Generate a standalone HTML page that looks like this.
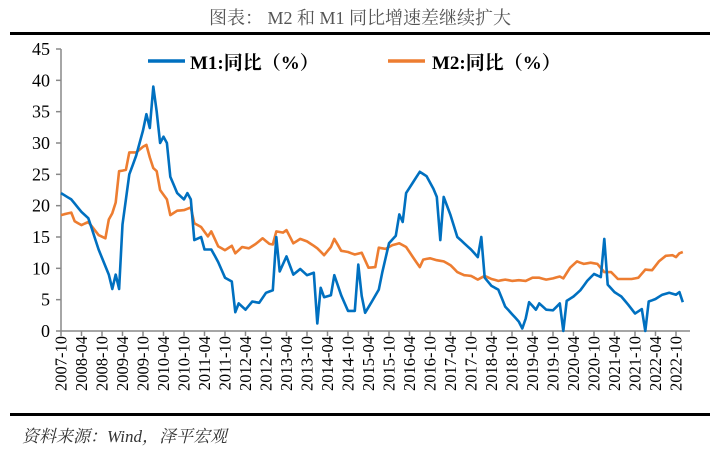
<!DOCTYPE html>
<html><head><meta charset="utf-8">
<style>
body{margin:0;background:#fff;width:719px;height:447px;overflow:hidden}
svg text{font-family:"Liberation Serif","Noto Serif CJK SC",serif}
</style></head><body>
<svg id="s" width="719" height="447" xmlns="http://www.w3.org/2000/svg">
<text x="360" y="24" text-anchor="middle" font-size="18" fill="#555">图表：  M2 和 M1 同比增速差继续扩大</text>
<rect x="10" y="32" width="700" height="3" fill="#000"/>
<rect x="10" y="413" width="700" height="3" fill="#000"/>
<text x="22" y="442" font-size="17" font-style="italic" fill="#333">资料来源：Wind，泽平宏观</text>
<line x1="148" y1="61" x2="185" y2="61" stroke="#0070C0" stroke-width="3.5"/>
<text x="190" y="69" font-size="19" font-weight="bold">M1:同比（%）</text>
<line x1="388" y1="61" x2="425" y2="61" stroke="#ED7D31" stroke-width="3.5"/>
<text x="432" y="69" font-size="19" font-weight="bold">M2:同比（%）</text>
<g id="ax"></g>
</svg>
<script>
const X0=61,DX=20.5/6,Y0=331,K=282/45;
const s=document.getElementById('ax');let h='';
h+=`<line x1="${X0}" y1="49" x2="${X0}" y2="${Y0}" stroke="#888" stroke-width="1.5"/>`;
h+=`<line x1="${X0}" y1="${Y0}" x2="690" y2="${Y0}" stroke="#888" stroke-width="1.5"/>`;
for(let v=0;v<=45;v+=5){const y=Y0-v*K;h+=`<line x1="${X0-5}" y1="${y}" x2="${X0}" y2="${y}" stroke="#888" stroke-width="1.5"/><text x="${X0-11}" y="${y+6}" text-anchor="end" font-size="18">${v}</text>`;}
for(let i=0;i<=30;i++){const x=X0+i*20.5;const m=9+i*6;const yr=2007+Math.floor(m/12);const mo=m%12+1;
h+=`<line x1="${x}" y1="${Y0}" x2="${x}" y2="${Y0+5}" stroke="#888" stroke-width="1.5"/>`;
h+=`<text transform="translate(${x+5.5},${Y0+5}) rotate(-90)" text-anchor="end" font-size="16.5">${yr}-${mo<10?'0'+mo:mo}</text>`;}
function idx(s){const [y,m]=s.split('-').map(Number);return (y-2007)*12+m-10;}
function path(str,col){const pts=str.trim().split(/\s*;\s*/).filter(Boolean).map(p=>{const[a,b]=p.trim().split(/\s+/);return[idx(a),parseFloat(b)]});
let d='';for(let i=0;i<pts.length-1;i++){const[a,va]=pts[i],[b,vb]=pts[i+1];for(let k=a;k<b;k++){const v=va+(vb-va)*(k-a)/(b-a);d+=(d?'L':'M')+(X0+k*DX).toFixed(1)+','+(Y0-Math.max(v,0)*K).toFixed(1);}}
const l=pts[pts.length-1];d+='L'+(X0+l[0]*DX).toFixed(1)+','+(Y0-l[1]*K).toFixed(1);
return `<path d="${d}" fill="none" stroke="${col}" stroke-width="2.6" stroke-linejoin="round"/>`;}
const M2=`2007-10 18.5;2008-01 18.9;2008-02 17.5;2008-04 16.9;2008-06 17.4;2008-09 15.3;2008-11 14.8;2008-12 17.8;2009-01 18.8;2009-02 20.5;2009-03 25.5;2009-05 25.7;2009-06 28.5;2009-08 28.5;2009-10 29.4;2009-11 29.7;2009-12 27.7;2010-01 26;2010-02 25.5;2010-03 22.5;2010-05 21;2010-06 18.5;2010-08 19.2;2010-10 19.3;2010-12 19.7;2011-01 17.2;2011-03 16.6;2011-05 15.1;2011-06 15.9;2011-08 13.5;2011-10 12.9;2011-12 13.6;2012-01 12.4;2012-03 13.4;2012-05 13.2;2012-07 13.9;2012-09 14.8;2012-11 13.9;2012-12 13.8;2013-01 15.9;2013-03 15.7;2013-04 16.1;2013-06 14;2013-08 14.7;2013-10 14.3;2013-12 13.6;2014-01 13.2;2014-03 12.1;2014-05 13.4;2014-06 14.7;2014-08 12.8;2014-10 12.6;2014-12 12.2;2015-02 12.5;2015-04 10.1;2015-06 10.2;2015-07 13.3;2015-09 13.1;2015-11 13.7;2016-01 14;2016-03 13.4;2016-05 11.8;2016-07 10.2;2016-08 11.4;2016-10 11.6;2016-12 11.3;2017-02 11.1;2017-04 10.5;2017-06 9.4;2017-08 8.9;2017-10 8.8;2017-12 8.2;2018-02 8.8;2018-04 8.3;2018-06 8;2018-08 8.2;2018-10 8;2018-12 8.1;2019-02 8;2019-04 8.5;2019-06 8.5;2019-08 8.2;2019-10 8.4;2019-12 8.7;2020-01 8.4;2020-03 10.1;2020-05 11.1;2020-07 10.7;2020-09 10.9;2020-11 10.7;2021-01 9.4;2021-03 9.4;2021-05 8.3;2021-07 8.3;2021-09 8.3;2021-11 8.5;2022-01 9.8;2022-03 9.7;2022-05 11.1;2022-07 12;2022-09 12.1;2022-10 11.8;2022-11 12.4;2022-12 12.6`;
const M1=`2007-10 22;2008-01 21;2008-04 19;2008-06 18;2008-09 13;2008-12 9;2009-01 6.7;2009-02 9;2009-03 6.7;2009-04 17;2009-06 25;2009-08 28;2009-10 32;2009-11 34.6;2009-12 32.4;2010-01 39;2010-02 35;2010-03 30;2010-04 31;2010-05 30;2010-06 24.6;2010-08 22;2010-10 21;2010-11 22;2010-12 21;2011-01 14.5;2011-03 15;2011-04 13;2011-06 13;2011-08 11;2011-10 8.5;2011-12 7.9;2012-01 3;2012-02 4.4;2012-04 3.4;2012-06 4.7;2012-08 4.5;2012-10 6.1;2012-12 6.5;2013-01 15;2013-02 9.5;2013-04 11.9;2013-06 9;2013-08 9.9;2013-10 8.9;2013-12 9.3;2014-01 1.2;2014-02 6.9;2014-03 5.4;2014-05 5.7;2014-06 8.9;2014-08 5.7;2014-10 3.2;2014-12 3.2;2015-01 10.6;2015-02 5.6;2015-03 2.9;2015-05 4.7;2015-07 6.6;2015-08 9.3;2015-10 14;2015-12 15.2;2016-01 18.6;2016-02 17.4;2016-03 22;2016-05 23.7;2016-07 25.4;2016-09 24.7;2016-11 22.7;2016-12 21.4;2017-01 14.5;2017-02 21.4;2017-04 18.5;2017-06 15;2017-08 14;2017-10 13;2017-12 11.8;2018-01 15;2018-02 8.5;2018-04 7.2;2018-06 6.6;2018-08 3.9;2018-10 2.7;2018-12 1.5;2019-01 0.4;2019-02 2;2019-03 4.6;2019-05 3.4;2019-06 4.4;2019-08 3.4;2019-10 3.3;2019-12 4.4;2020-01 0;2020-02 4.8;2020-04 5.5;2020-06 6.5;2020-08 8;2020-10 9.1;2020-12 8.6;2021-01 14.7;2021-02 7.4;2021-04 6.2;2021-06 5.5;2021-08 4.2;2021-10 2.8;2021-12 3.5;2022-01 0;2022-02 4.7;2022-04 5.1;2022-06 5.8;2022-08 6.1;2022-10 5.8;2022-11 6.2;2022-12 4.6`;
h+=path(M2,'#ED7D31');h+=path(M1,'#0070C0');
s.innerHTML=h;
</script>
</body></html>
